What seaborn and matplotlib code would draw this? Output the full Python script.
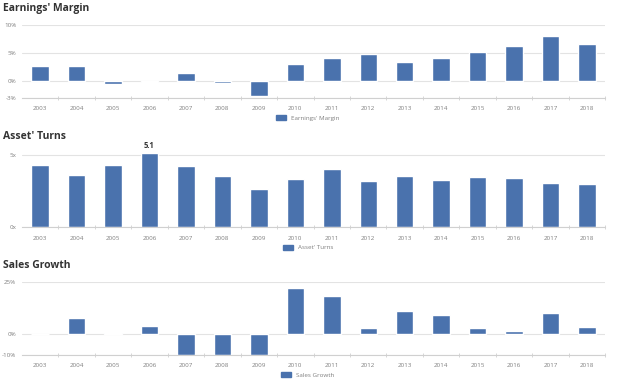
import numpy as np
import pandas as pd
import matplotlib
matplotlib.use("Agg")
import matplotlib.pyplot as plt
import seaborn as sns
from matplotlib.patches import Patch

years = [str(y) for y in range(2003, 2019)]
earnings_margin = [2.7, 2.7, -0.6, -0.1, 1.5, -0.4, -2.7, 3.1,
                   4.05, 4.8, 3.5, 4.2, 5.2, 6.25, 8.1, 6.55]
asset_turns = [4.3, 3.6, 4.3, 5.1, 4.2, 3.5, 2.6, 3.3,
               4.0, 3.2, 3.55, 3.25, 3.45, 3.4, 3.05, 2.95]
sales_growth = [0.0, 7.6, 0.6, 4.1, -10.0, -10.0, -10.0, 22.4,
                18.1, 2.7, 11.3, 9.0, 2.9, 1.7, 10.2, 3.3]

BLUE = "#4a72ad"
GRID = "#e3e3e3"
TXT = "#808080"

sns.set_theme(style="white")
plt.rcParams["font.family"] = ["Open Sans", "DejaVu Sans"]

fig = plt.figure(figsize=(6.24, 3.87), dpi=100)

panels = [
    ("Earnings' Margin", earnings_margin, (-3, 10), [-3, 0, 5, 10], "{:.0f}%", 0.747, 0.935),
    ("Asset' Turns", asset_turns, (0, 5.1), [0, 5], "{:.0f}x", 0.413, 0.604),
    ("Sales Growth", sales_growth, (-10, 25), [-10, 0, 25], "{:.0f}%", 0.083, 0.271),
]

for title, vals, ylim, yticks, fmt, bot, top in panels:
    ax = fig.add_axes([0.035, bot, 0.935, top - bot])
    df = pd.DataFrame({"year": years, "value": vals})
    sns.barplot(data=df, x="year", y="value", color=BLUE, width=0.48,
                saturation=1, ax=ax)
    ax.set_xlim(-0.5, len(years) - 0.5)
    ax.set_ylim(*ylim)
    ax.set_yticks(yticks)
    ax.set_yticklabels([fmt.format(t) for t in yticks])
    for t in yticks:
        ax.axhline(t, color=GRID, lw=0.8, zorder=0)
    for s in ["top", "right", "left"]:
        ax.spines[s].set_visible(False)
    ax.spines["bottom"].set_color("#d0d0d0")
    ax.spines["bottom"].set_linewidth(0.8)
    ax.set_xlabel("")
    ax.set_ylabel("")
    ax.tick_params(axis="x", length=0, labelsize=4.5, labelcolor=TXT, pad=6)
    ax.tick_params(axis="y", length=0, labelsize=4.5, labelcolor=TXT, pad=4)
    ax.set_xticks(np.arange(0.5, len(years) + 0.5, 1.0), minor=True)
    ax.tick_params(axis="x", which="minor", length=3, color="#d0d0d0",
                   width=0.6, direction="inout", bottom=True)
    for b in ax.patches:
        b.set_clip_on(False)
    fig.text(0.005, top + 0.043, title, fontsize=7.5, fontweight="bold",
             color="#333333", va="center", ha="left")
    ax.legend(handles=[Patch(color=BLUE, label=title)], loc="upper center",
              bbox_to_anchor=(0.49, -0.16), frameon=False, fontsize=4.5,
              handlelength=1.6, handleheight=0.9, labelcolor=TXT)
    if title == "Asset' Turns":
        i = int(np.argmax(vals))
        ax.annotate(f"{vals[i]:.1f}", (i, vals[i]), xytext=(0, 2),
                    textcoords="offset points", ha="center", va="bottom",
                    fontsize=5.5, fontweight="bold", color="#333333")

fig.savefig("out.png", dpi=100)
